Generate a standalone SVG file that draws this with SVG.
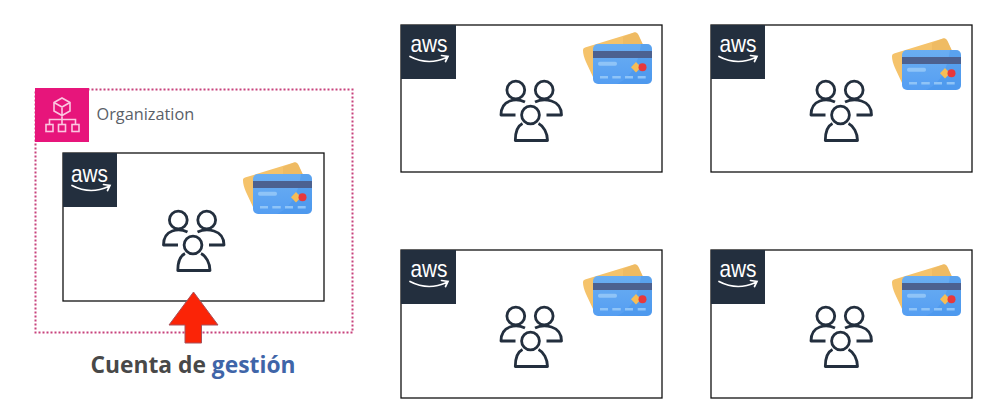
<svg xmlns="http://www.w3.org/2000/svg" width="985" height="412" viewBox="0 0 985 412">
<style>
.box{fill:#fff;stroke:#111;stroke-width:1.3}
.sq{fill:#232f3e}
.aws{font-family:"Liberation Sans","Open Sans",sans-serif;font-size:24px;fill:#fff;text-anchor:middle}
.smile{fill:none;stroke:#fff;stroke-width:1.7;stroke-linecap:round}
.pp{fill:none;stroke:#232f3e;stroke-width:2.8;stroke-linejoin:round}
.org{font-family:"Open Sans","Liberation Sans",sans-serif;font-size:16.300px;fill:#5a6068}
.lbl{font-family:"Open Sans","Liberation Sans",sans-serif;font-size:22.800px;font-weight:700;fill:#484848;text-anchor:middle}
.ic{fill:none;stroke:#fbc6e0;stroke-width:1.6}
</style>
<defs>
<linearGradient id="cg" x1="0" y1="0" x2="0" y2="1"><stop offset="0" stop-color="#6aaef2"/><stop offset="1" stop-color="#559ef2"/></linearGradient>
<g id="people">
<circle class="pp" cx="115.300" cy="67" r="8.900"/>
<circle class="pp" cx="143.700" cy="67" r="8.900"/>
<circle class="pp" cx="130" cy="92" r="8.900"/>
<path class="pp" d="M124.500 79C116 75 100.500 76 100.500 92H115"/>
<path class="pp" d="M134.500 79C143 75 161 76 161 92H146"/>
<path class="pp" d="M122 100.500C117 103 114.800 110 114.800 117.500H147C147 110 143 103 138 100.500"/>
</g>
<g id="card">
<path d="M182 25.500Q181.500 23.500 184 22.500L233 7.500Q236 6.800 237.500 10L243 22V48L192 52L185 37Q182 30 182 25.500Z" fill="#f5c36b"/>
<path d="M222 12L233 7.500Q236 6.800 237.500 10L243 22V30H222Z" fill="#e9b45c" opacity=".5"/>
<rect x="192" y="19" width="59" height="40" rx="5" fill="url(#cg)"/>
<path d="M240 19H246Q251 19 251 24V54Q251 59 246 59H216Q236 50 240 19Z" fill="#3f8fe8" opacity=".35"/>
<rect x="192" y="26" width="59" height="7" fill="#4c6190"/>
<rect x="197" y="36.700" width="19" height="4" rx="1.700" fill="#8fc4f7"/>
<path d="M230 42.300L235 37L240 42.300L235 47.500Z" fill="#f7bd55"/>
<circle cx="241.500" cy="42.300" r="4" fill="#e8383b"/>
<path d="M199 52.300h8M211.300 52.300h8.500M224 52.300h8M236.700 52.300h8" stroke="#8fc4f7" stroke-width="2.400" fill="none"/>
</g>
<path id="smile" class="smile" d="M9 32.500Q27 42 45.500 33.500M40.500 31.500L47 32.500L44.500 37.500"/>
</defs>
<rect width="985" height="412" fill="#fff"/>
<g id="organization">
<rect x="35.500" y="89.500" width="317" height="243" fill="none" stroke="#c8427c" stroke-width="2" stroke-dasharray="2 2"/>
<rect x="35" y="88" width="54" height="54" fill="#e7157b"/>
<path class="ic" d="M62 98L70 102.500V111L62 115.500L54 111V102.500ZM54 102.500L62 107L70 102.500M62 107V115.500M62 115.500V119.500M49.500 124V119.500H75.500V124M62 119.500V124"/>
<rect class="ic" x="46" y="124.500" width="7" height="7"/>
<rect class="ic" x="58.500" y="124.500" width="7" height="7"/>
<rect class="ic" x="72" y="124.500" width="7" height="7"/>
<text class="org" x="96.500" y="120">Organization</text>
</g>
<g id="account-mgmt" transform="translate(63 153)"><rect class="box" width="261" height="148"/><rect class="sq" width="54" height="54"/><use href="#people"/><use href="#card" x="-2" y="2"/><use href="#smile"/><text class="aws" x="26.500" y="29" textLength="37" lengthAdjust="spacingAndGlyphs">aws</text></g>
<g id="account-1" transform="translate(401 25)"><rect class="box" width="261" height="147"/><rect class="sq" width="55" height="54"/><use href="#people" x="-.5" y="-2"/><use href="#card"/><use href="#smile" y="-1"/><text class="aws" x="28" y="27.300" textLength="37" lengthAdjust="spacingAndGlyphs">aws</text></g>
<g id="account-2" transform="translate(711 25)"><rect class="box" width="261" height="147"/><rect class="sq" width="54" height="54"/><use href="#people" x="-.5" y="-2"/><use href="#card" x="-1" y="6"/><use href="#smile" x="-1" y="-1"/><text class="aws" x="27" y="27.300" textLength="37" lengthAdjust="spacingAndGlyphs">aws</text></g>
<g id="account-3" transform="translate(401 250)"><rect class="box" width="261" height="148"/><rect class="sq" width="55" height="54"/><use href="#people" x="-.5" y="-1"/><use href="#card" y="7"/><use href="#smile" y="-1"/><text class="aws" x="28" y="27.300" textLength="37" lengthAdjust="spacingAndGlyphs">aws</text></g>
<g id="account-4" transform="translate(711 250)"><rect class="box" width="261" height="148"/><rect class="sq" width="54" height="54"/><use href="#people" x="-.5" y="-1"/><use href="#card" x="-1" y="7"/><use href="#smile" x="-1" y="-1"/><text class="aws" x="27" y="27.300" textLength="37" lengthAdjust="spacingAndGlyphs">aws</text></g>
<g id="connectors">
<path d="M193.500 292L218 325H201.500V343H185V325H169Z" fill="#fb2407" stroke="#a8505a" stroke-width="1"/>
</g>
<g id="label"><text class="lbl" x="193" y="373">Cuenta de <tspan fill="#3f65a8">gestión</tspan></text></g>
</svg>
